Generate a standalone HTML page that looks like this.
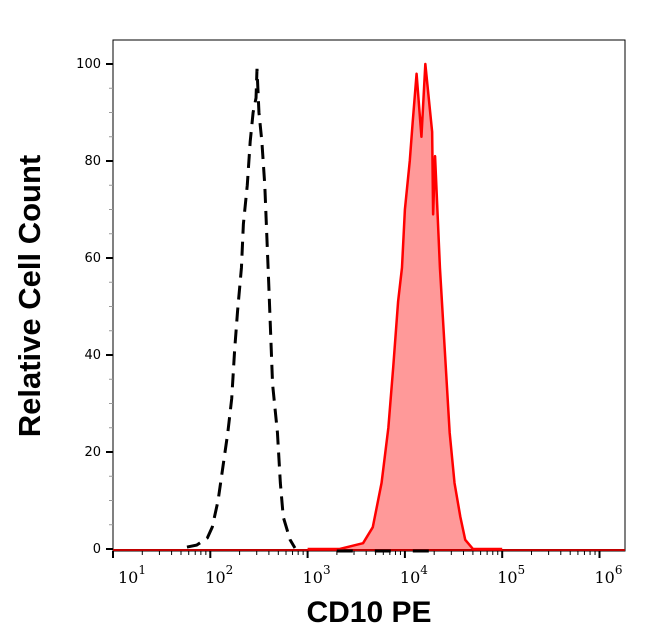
<!DOCTYPE html>
<html><head><meta charset="utf-8"><style>
body{margin:0;background:#fff;}
svg{display:block;font-family:"DejaVu Sans","Liberation Sans",sans-serif;}
</style></head><body>
<svg id="chart" width="646" height="641" viewBox="0 0 646 641" xmlns="http://www.w3.org/2000/svg">
<rect x="113" y="40" width="512" height="511" fill="#fff" stroke="#000" stroke-width="1"/>
<g id="yaxis"></g>
<g id="xaxis"></g>
<g id="series"></g>
<text x="369" y="622" text-anchor="middle" font-family="Liberation Sans, sans-serif" font-weight="bold" font-size="30">CD10 PE</text>
<text transform="translate(40,296) rotate(-90)" text-anchor="middle" font-family="Liberation Sans, sans-serif" font-weight="bold" font-size="31">Relative Cell Count</text>
</svg>
<script>
const yTicks=[0,20,40,60,80,100];
const xDecades=[1,2,3,4,5,6];
const stainedLog=[3.0,3.33,3.45,3.57,3.67,3.76,3.83,3.88,3.93,3.97,4.0,4.05,4.08,4.12,4.17,4.21,4.28,4.29,4.31,4.36,4.41,4.46,4.51,4.57,4.62,4.7,5.0];
const stainedVal=[0,0,0.6,1.2,4.5,13.6,25,37.5,51,58,70,80,88,98,85,100,86,69,81,58,41,24,13.6,6.6,1.9,0,0];
const controlLog=[1.76,1.86,1.97,2.02,2.08,2.13,2.18,2.22,2.25,2.28,2.32,2.34,2.38,2.41,2.44,2.47,2.48,2.5,2.53,2.56,2.58,2.6,2.62,2.64,2.69,2.72,2.75,2.82,2.87];
const controlVal=[0.4,0.8,2.3,4.5,10,17,24,31,41,49,58,67,75,84,90,93,99,90,84,75,65,55,44.5,34,24,13.6,6.6,1.9,0.2];

const NS='http://www.w3.org/2000/svg';
const X0=113,DEC=97.3,Y0=549,YS=4.85;
const xs=l=>X0+(l-1)*DEC;
const ys=v=>Y0-v*YS;
function mk(tag,attrs,parent){const e=document.createElementNS(NS,tag);for(const k in attrs)e.setAttribute(k,attrs[k]);parent.appendChild(e);return e;}
const ya=document.getElementById('yaxis'),xa=document.getElementById('xaxis'),sr=document.getElementById('series');

for(let v=0;v<=100;v+=5){
  const major=yTicks.includes(v);
  const t=mk('line',{x1:major?106:109,x2:113,y1:ys(v),y2:ys(v),stroke:major?'#000':'#999','stroke-width':major?2:1},ya);
  
  
}
yTicks.forEach(v=>{
  const t=mk('text',{x:101,y:ys(v)+4,'text-anchor':'end','font-size':13,'font-family':'DejaVu Sans, sans-serif'},ya);
  t.textContent=v;
  
  
});
for(let d=1;d<=6;d++){
  const t=mk('line',{x1:xs(d),x2:xs(d),y1:551,y2:558,stroke:'#000','stroke-width':2},xa);
  
  
  if(d<6){for(let m=2;m<=9;m++){
    const lx=xs(d+Math.log10(m));
    const mt=mk('line',{x1:lx,x2:lx,y1:551,y2:555,stroke:'#000','stroke-width':1},xa);
    
    
  }}
}
xDecades.forEach(d=>{
  const g=mk('text',{x:xs(d)-5+(d===1?10:0),y:583,'font-size':16,'font-family':'DejaVu Serif, serif'},xa);
  
  
  const b=mk('tspan',{},g);b.textContent='10';
  const s=mk('tspan',{dy:-9,'font-size':12},g);s.textContent=d;
});

let pts=stainedLog.map((l,i)=>xs(l)+','+ys(stainedVal[i]));
const area=mk('polygon',{points:pts.join(' ')+' '+xs(stainedLog[stainedLog.length-1])+','+Y0+' '+xs(stainedLog[0])+','+Y0,fill:'#ff9999',stroke:'none'},sr);


const base=mk('line',{x1:113,x2:625,y1:550,y2:550,stroke:'#c00000','stroke-width':2},sr);


const rl=mk('polyline',{points:pts.join(' '),fill:'none',stroke:'#ff0000','stroke-width':2.5,'stroke-linejoin':'round'},sr);


const cpts=controlLog.map((l,i)=>xs(l)+','+ys(controlVal[i]));
const bl=mk('polyline',{points:cpts.join(' '),fill:'none',stroke:'#000','stroke-width':3,'stroke-dasharray':'14 8'},sr);


const cb=mk('line',{x1:xs(3.3),x2:xs(4.3),y1:551,y2:551,stroke:'#000','stroke-width':3,'stroke-dasharray':'16 22'},sr);


</script>
</body></html>
